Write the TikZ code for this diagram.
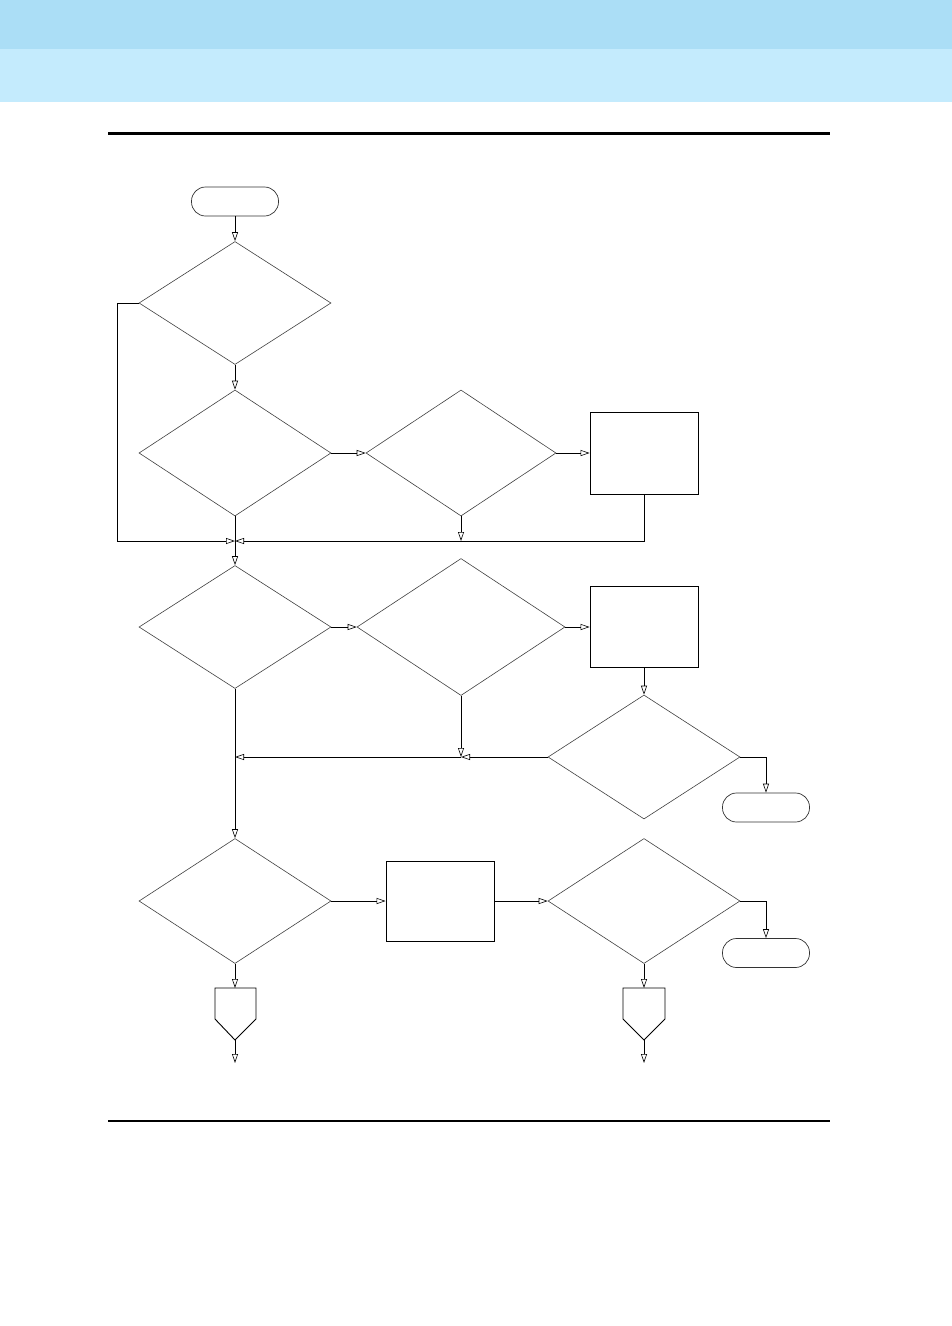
\documentclass[tikz,border=0pt]{standalone}
\usetikzlibrary{arrows.meta, positioning, shapes.geometric}
\definecolor{bandtop}{HTML}{ABDEF6}
\definecolor{bandlow}{HTML}{C4EBFD}

\begin{document}
\begin{tikzpicture}[x=1pt, y=-1pt,
    decision/.style={diamond, draw=black!75, line width=0.6pt, inner sep=0pt,
        minimum width=192pt, minimum height=123pt},
    process/.style={rectangle, draw, line width=0.9pt, inner sep=0pt,
        minimum width=108pt, minimum height=81pt},
    terminal/.style={rectangle, rounded corners=14pt, draw=black!80, line width=0.7pt,
        inner sep=0pt, minimum width=87pt, minimum height=29pt},
    flow/.style={draw, line width=0.9pt},
    arr/.style={flow, -{Triangle[open, length=9pt, width=6pt, line width=0.6pt]}}]
    \useasboundingbox (0,0) rectangle (952,1326);
    % page header and rules
    \fill[bandtop] (0,0) rectangle (952,49);
    \fill[bandlow] (0,49) rectangle (952,102);
    \draw[line width=3pt] (108,133) -- (830,133);
    \draw[line width=2pt] (108,1121) -- (830,1121);

    % shapes
    \node[terminal] (start) at (235,201.5) {};
    \node[decision] (d1) at (235,303) {};
    \node[decision, minimum height=126pt] (d2) at (235,453) {};
    \node[decision, minimum width=190pt, minimum height=126pt] (d3) at (461,453) {};
    \node[process, minimum height=82pt] (b1) at (644,453) {};
    \node[decision] (d4) at (235,627) {};
    \node[decision, minimum width=208pt, minimum height=137pt] (d5) at (461,627) {};
    \node[process] (b2) at (644,627) {};
    \node[decision, minimum height=124pt] (d6) at (644,757) {};
    \node[terminal] (t2) at (766,807.5) {};
    \node[decision, minimum height=125pt] (d7) at (235,901) {};
    \node[process, minimum height=80pt] (b3) at (440,901) {};
    \node[decision, minimum height=125pt] (d8) at (644,901) {};
    \node[terminal] (t3) at (766,953) {};

    % off-page connectors
    \draw[line width=0.9pt] (215,988) -- (256,988) -- (256,1019) -- (235,1040) -- (215,1019) -- cycle;
    \draw[line width=0.9pt] (623,988) -- (665,988) -- (665,1019) -- (644,1040) -- (623,1019) -- cycle;
    \coordinate (p1in) at (235,988);
    \coordinate (p1tip) at (235,1040);
    \coordinate (p1out) at (235,1063);
    \coordinate (p2in) at (644,988);
    \coordinate (p2tip) at (644,1040);
    \coordinate (p2out) at (644,1063);

    % junctions
    \coordinate (lft) at (117,541);
    \coordinate (j1) at (235,541);
    \coordinate (j2) at (461,541);
    \coordinate (j3) at (235,757);
    \coordinate (j4) at (461,757);

    % connectors
    \draw[arr] (start) -- (d1);
    \draw[arr] (d1.west) -| (lft) -- (j1);
    \draw[arr] (d1) -- (d2);
    \draw[arr] (d2.east) -- (d3.west);
    \draw[arr] (d3.east) -- (b1.west);
    \draw[arr] (d3.south) -- (j2);
    \draw[arr] (b1.south) |- (j1);
    \draw[flow] (d2.south) -- (j1);
    \draw[arr] (j1) -- (d4.north);
    \draw[arr] (d4.east) -- (d5.west);
    \draw[arr] (d5.east) -- (b2.west);
    \draw[arr] (b2) -- (d6);
    \draw[arr] (d6.east) -| (t2.north);
    \draw[arr] (d5.south) -- (j4);
    \draw[arr] (d6.west) -- (j4);
    \draw[arr] (j4) -- (j3);
    \draw[arr] (d4.south) -- (d7.north);
    \draw[arr] (d7.east) -- (b3.west);
    \draw[arr] (b3.east) -- (d8.west);
    \draw[arr] (d8.east) -| (t3.north);
    \draw[arr] (d7.south) -- (p1in);
    \draw[arr] (p1tip) -- (p1out);
    \draw[arr] (d8.south) -- (p2in);
    \draw[arr] (p2tip) -- (p2out);
\end{tikzpicture}
\end{document}
